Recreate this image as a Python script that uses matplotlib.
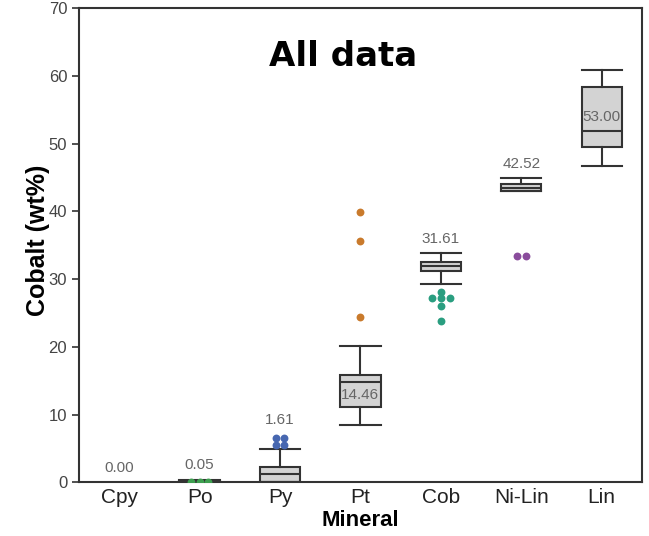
import matplotlib
matplotlib.use("Agg")
import matplotlib.pyplot as plt

plt.rcParams["font.family"] = ["Liberation Sans", "DejaVu Sans"]

# -------- Data --------
minerals = ["Cpy", "Po", "Py", "Pt", "Cob", "Ni-Lin", "Lin"]
means = [0.00, 0.05, 1.61, 14.46, 31.61, 42.52, 53.00]

# box stats, None for Cpy (no box drawn)
q1 = [None, 0.0, 0.0, 11.2, 31.2, 43.0, 49.5]
med = [None, 0.05, 1.2, 14.8, 31.9, 43.5, 51.9]
q3 = [None, 0.2, 2.2, 15.8, 32.5, 44.0, 58.3]
whislo = [None, 0.0, 0.0, 8.4, 29.3, 43.0, 46.7]
whishi = [None, 0.3, 4.9, 20.1, 33.8, 44.9, 60.8]

fliers = [
    [],
    [0.0, 0.0, 0.0],
    [6.6, 6.6, 5.5, 5.5],
    [39.9, 35.6, 24.4],
    [28.1, 27.2, 27.2, 27.2, 26.0, 23.8],
    [33.4, 33.4],
    [],
]
flier_colors = ["none", "#3d9e4f", "#4767b0", "#c97a2c", "#2a9e80", "#8a4c9c", "none"]

# -------- Plot --------
fig = plt.figure(figsize=(6.49, 5.36), dpi=100)
ax = fig.add_axes([0.1217, 0.1, 0.8673, 0.885])

stats = []
positions = []
for i in range(len(minerals)):
    if q1[i] is None:
        continue
    stats.append({"q1": q1[i], "med": med[i], "q3": q3[i],
                  "whislo": whislo[i], "whishi": whishi[i], "fliers": []})
    positions.append(i)

edge = "#333333"
ax.bxp(stats, positions=positions, widths=0.5, patch_artist=True,
       showfliers=False, showcaps=True,
       boxprops=dict(facecolor="#d3d3d3", edgecolor=edge, linewidth=1.5),
       medianprops=dict(color=edge, linewidth=1.5),
       whiskerprops=dict(color=edge, linewidth=1.5),
       capprops=dict(color=edge, linewidth=1.5),
       capwidths=0.5, zorder=2)

# fliers: spread equal values sideways like a small swarm
step = 0.11
for i, vals in enumerate(fliers):
    groups = {}
    for v in vals:
        groups.setdefault(v, 0)
        groups[v] += 1
    xs, ys = [], []
    for v, n in groups.items():
        for k in range(n):
            xs.append(i + (k - (n - 1) / 2) * step)
            ys.append(v)
    if xs:
        ax.scatter(xs, ys, s=32, color=flier_colors[i], zorder=3, linewidths=0)

# mean labels
for i, m in enumerate(means):
    if q1[i] is not None and q3[i] - q1[i] > 3 and q1[i] < m < q3[i]:
        y = m - 1.6 if med[i] > m else m + 0.9
        ax.text(i, y, f"{m:.2f}", ha="center", va="center", fontsize=11, color="#666666")
    else:
        top = 0.0 if whishi[i] is None else whishi[i]
        if fliers[i]:
            top = max(top, max(fliers[i]) + 0.5)
        ax.text(i, top + 1.1, f"{m:.2f}", ha="center", va="bottom", fontsize=11, color="#666666")

ax.set_xlim(-0.5, len(minerals) - 0.5)
ax.set_ylim(0, 70)
ax.set_xticks(range(len(minerals)))
ax.set_xticklabels(minerals, fontsize=15, color="#222222")
ax.set_yticks(range(0, 71, 10))
ax.tick_params(axis="y", labelsize=12, labelcolor="#444444", length=5, width=1.2, color=edge)
ax.tick_params(axis="x", length=0, pad=4)
for s in ax.spines.values():
    s.set_color(edge)
    s.set_linewidth(1.5)

ax.set_xlabel("Mineral", fontsize=16, fontweight="bold")
ax.xaxis.set_label_coords(0.5, -0.058)
ax.set_ylabel("Cobalt (wt%)", fontsize=18, fontweight="bold")
ax.yaxis.set_label_coords(-0.052, 0.51)
ax.text(0.47, 0.897, "All data", transform=ax.transAxes, ha="center", va="center",
        fontsize=24.5, fontweight="bold", family=["DejaVu Sans"])

fig.savefig("out.png", dpi=100)
